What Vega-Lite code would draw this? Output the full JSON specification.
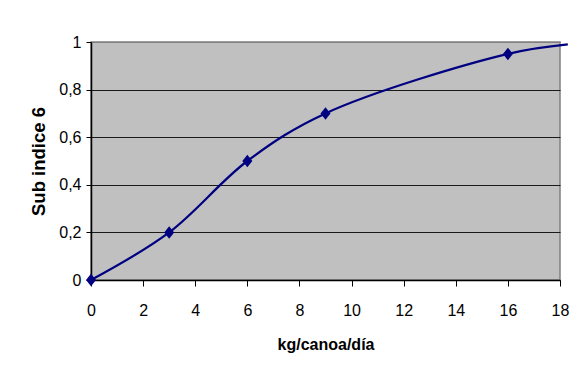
{
  "$schema": "https://vega.github.io/schema/vega-lite/v6.json",
  "width": 469,
  "height": 238,
  "autosize": {"type": "none"},
  "padding": {"left": 91, "top": 42, "right": 17, "bottom": 103},
  "background": "white",
  "config": {
    "font": "Liberation Sans",
    "view": {"fill": "#C0C0C0", "stroke": "#808080", "strokeWidth": 1.5}
  },
  "data": {
    "values": [
      {"kg": 0, "sub": 0},
      {"kg": 3, "sub": 0.2},
      {"kg": 6, "sub": 0.5},
      {"kg": 9, "sub": 0.7},
      {"kg": 16, "sub": 0.95},
      {"kg": 18.3, "sub": 0.99}
    ]
  },
  "encoding": {
    "x": {
      "field": "kg",
      "type": "quantitative",
      "scale": {"domain": [0, 18], "nice": false, "zero": false},
      "axis": {
        "title": "kg/canoa/día",
        "values": [0, 2, 4, 6, 8, 10, 12, 14, 16, 18],
        "grid": false,
        "domainColor": "#000",
        "domainWidth": 1.5,
        "tickColor": "#000",
        "tickSize": 6,
        "tickWidth": 1,
        "labelFontSize": 16,
        "labelColor": "#000",
        "labelPadding": 16,
        "labelFlush": false,
        "labelOverlap": false,
        "titleFontSize": 16,
        "titleFontWeight": "bold",
        "titleColor": "#000",
        "titlePadding": 18
      }
    },
    "y": {
      "field": "sub",
      "type": "quantitative",
      "scale": {"domain": [0, 1], "nice": false},
      "axis": {
        "title": "Sub indice 6",
        "values": [0, 0.2, 0.4, 0.6, 0.8, 1],
        "labelExpr": "replace(format(datum.value, '~g'), '.', ',')",
        "grid": true,
        "gridColor": {"condition": {"test": "datum.value == 1", "value": "#808080"}, "value": "#1a1a1a"},
        "gridWidth": 1,
        "domainColor": "#000",
        "domainWidth": 1.5,
        "tickColor": "#000",
        "tickSize": 5,
        "tickWidth": 1,
        "labelFontSize": 16,
        "labelColor": "#000",
        "labelPadding": 5,
        "labelFlush": false,
        "titleFontSize": 18.5,
        "titleFontWeight": "bold",
        "titleColor": "#000",
        "titlePadding": 10
      }
    }
  },
  "layer": [
    {
      "mark": {"type": "line", "interpolate": "catmull-rom", "color": "#000080", "strokeWidth": 2.2, "clip": false}
    },
    {
      "transform": [{"filter": "datum.kg <= 16"}],
      "mark": {
        "type": "point",
        "shape": "M0,-1.25L1,0L0,1.25L-1,0Z",
        "filled": true,
        "color": "#000080",
        "opacity": 1,
        "size": 100,
        "clip": false
      }
    }
  ]
}
